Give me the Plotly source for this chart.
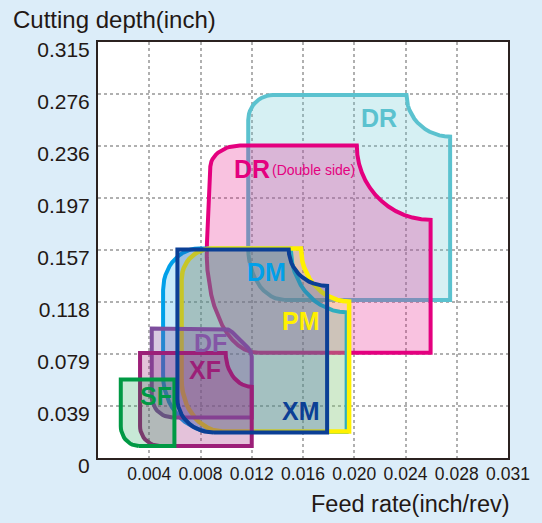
import numpy as np
import plotly.graph_objects as go

# ---------------- axis ticks (inch) ----------------
X_TICK_VALUES = [0.003937, 0.007874, 0.011811, 0.015748, 0.019685, 0.023622, 0.027559, 0.031496]
X_TICK_LABELS = ["0.004", "0.008", "0.012", "0.016", "0.020", "0.024", "0.028", "0.031"]
Y_TICK_VALUES = [0, 0.03937, 0.07874, 0.11811, 0.15748, 0.19685, 0.23622, 0.27559, 0.31496]
Y_TICK_LABELS = ["0", "0.039", "0.079", "0.118", "0.157", "0.197", "0.236", "0.276", "0.315"]

# ---------------- chip-breaker regions ----------------
# corner vertices (feed inch/rev, depth inch) in order BL, TL, TR, BR (+extra)
# corner rounding (feed, depth); negative = concave notch, 0 = sharp
DR_FEED = [0.01154, 0.01154, 0.02705, 0.02705]
DR_DEPTH = [0.1197, 0.2748, 0.2748, 0.1197]
DR_RFEED = [0.00276, 0.0019, -0.00335, 0]
DR_RDEPTH = [0.0394, 0.019, -0.0315, 0]

DRDS_FEED = [0.0080, 0.0087, 0.02555, 0.02555]
DRDS_DEPTH = [0.0797, 0.2366, 0.2366, 0.0797]
DRDS_RFEED = [0.0043, 0.0022, -0.00567, 0]
DRDS_RDEPTH = [0.083, 0.016, -0.0563, 0]

DM_FEED = [0.0050, 0.0050, 0.0191, 0.0191]
DM_DEPTH = [0.0197, 0.1587, 0.1587, 0.0197]
DM_RFEED = [0.0039, 0.00276, -0.0043, 0]
DM_RDEPTH = [0.043, 0.0315, -0.0484, 0]

PM_FEED = [0.00642, 0.00642, 0.01929, 0.01929]
PM_DEPTH = [0.0201, 0.1587, 0.1587, 0.0201]
PM_RFEED = [0.00315, 0.00236, -0.0037, 0]
PM_RDEPTH = [0.0394, 0.0236, -0.0402, 0]

XM_FEED = [0.0061, 0.0061, 0.0176, 0.0176]
XM_DEPTH = [0.0193, 0.1579, 0.1579, 0.0193]
XM_RFEED = [0.00276, 0, -0.00295, 0]
XM_RDEPTH = [0.0256, 0, -0.0276, 0]

DF_FEED = [0.00413, 0.00413, 0.01004, 0.01181, 0.01181]
DF_DEPTH = [0.0307, 0.0980, 0.0980, 0.0807, 0.0307]
DF_RFEED = [0.0016, 0, 0.0004, 0.0004, 0]
DF_RDEPTH = [0.0157, 0, 0.004, 0.004, 0]

XF_FEED = [0.00323, 0.00323, 0.01181, 0.01181]
XF_DEPTH = [0.0091, 0.0795, 0.0795, 0.0091]
XF_RFEED = [0.0015, 0, -0.0020, 0]
XF_RDEPTH = [0.015, 0, -0.0256, 0]

SF_FEED = [0.00175, 0.00175, 0.00587, 0.00587]
SF_DEPTH = [0.0091, 0.0594, 0.0594, 0.0091]
SF_RFEED = [0.00138, 0, 0, 0]
SF_RDEPTH = [0.015, 0, 0, 0]

# labels
LABEL_TEXT = ["DR", "DR", "DM", "PM", "DF", "XF", "SF", "XM"]
LABEL_FEED = [0.02157, 0.01185, 0.01291, 0.01563, 0.00862, 0.00823, 0.00449, 0.01563]
LABEL_DEPTH = [0.2571, 0.2189, 0.1405, 0.1035, 0.0870, 0.0669, 0.0468, 0.0354]
SUB_TEXT = "(Double side)"
SUB_FEED = 0.01322
SUB_DEPTH = 0.2180

# colours
C_DR = "#5bc2cf"
C_DRDS = "#e4007f"
C_DM = "#00a0e9"
C_PM = "#fff100"
C_XM = "#0b3f95"
C_DF = "#7d4e9d"
C_XF = "#9c1f78"
C_SF = "#009944"
LABEL_COLORS = [C_DR, C_DRDS, C_DM, C_PM, "#8456a6", C_XF, C_SF, C_XM]

K = 0.5523


def outline(xs, ys, rxs, rys, n=14):
    px, py = [], []
    m = len(xs)
    for i in range(m):
        V = np.array([xs[i], ys[i]], dtype=float)
        rx, ry = abs(rxs[i]), abs(rys[i])
        if rx == 0 or ry == 0:
            px.append(V[0]); py.append(V[1])
            continue
        P = np.array([xs[i - 1], ys[i - 1]], dtype=float)
        N = np.array([xs[(i + 1) % m], ys[(i + 1) % m]], dtype=float)

        def off(D):
            u = D - V
            s = 1.0 / np.sqrt((u[0] / rx) ** 2 + (u[1] / ry) ** 2)
            return V + u * s

        A, B = off(P), off(N)
        Q = V if rxs[i] > 0 else A + B - V
        c1 = A + K * (Q - A)
        c2 = B + K * (Q - B)
        t = np.linspace(0, 1, n)[:, None]
        pts = (1 - t) ** 3 * A + 3 * (1 - t) ** 2 * t * c1 + 3 * (1 - t) * t ** 2 * c2 + t ** 3 * B
        px.extend(pts[:, 0]); py.extend(pts[:, 1])
    px.append(px[0]); py.append(py[0])
    return px, py


def rgba(hexc, a):
    h = hexc.lstrip("#")
    r, g, b = int(h[0:2], 16), int(h[2:4], 16), int(h[4:6], 16)
    return f"rgba({r},{g},{b},{a})"


fig = go.Figure()


def add_region(name, xs, ys, rxs, rys, color, alpha, fill=True, line=True, width=4, fillcol=None):
    px, py = outline(xs, ys, rxs, rys)
    fig.add_trace(go.Scatter(
        x=px, y=py, mode="lines", name=name,
        fill="toself" if fill else None,
        fillcolor=rgba(fillcol or color, alpha) if fill else None,
        line=dict(color=color if line else "rgba(0,0,0,0)", width=width if line else 0),
        hoverinfo="skip", showlegend=False,
    ))


add_region("DR", DR_FEED, DR_DEPTH, DR_RFEED, DR_RDEPTH, C_DR, 0.25)
add_region("DR(Double side)", DRDS_FEED, DRDS_DEPTH, DRDS_RFEED, DRDS_RDEPTH, C_DRDS, 0.24)
add_region("DM", DM_FEED, DM_DEPTH, DM_RFEED, DM_RDEPTH, C_DM, 0.22)
add_region("PM", PM_FEED, PM_DEPTH, PM_RFEED, PM_RDEPTH, C_PM, 0.18, width=4.5)
add_region("XM", XM_FEED, XM_DEPTH, XM_RFEED, XM_RDEPTH, C_XM, 0.25, line=False, fillcol="#1e46a0")
add_region("DF", DF_FEED, DF_DEPTH, DF_RFEED, DF_RDEPTH, C_DF, 0.3)
add_region("XF", XF_FEED, XF_DEPTH, XF_RFEED, XF_RDEPTH, C_XF, 0.27)
add_region("SF", SF_FEED, SF_DEPTH, SF_RFEED, SF_RDEPTH, C_SF, 0.22)
add_region("XM", XM_FEED, XM_DEPTH, XM_RFEED, XM_RDEPTH, C_XM, 0, fill=False)

FONT = "Liberation Sans, Arial, sans-serif"
for txt, fx, dy, col in zip(LABEL_TEXT, LABEL_FEED, LABEL_DEPTH, LABEL_COLORS):
    fig.add_annotation(x=fx, y=dy, text=f"<b>{txt}</b>", showarrow=False,
                       font=dict(family=FONT, size=25, color=col),
                       xanchor="center", yanchor="middle")
fig.add_annotation(x=SUB_FEED, y=SUB_DEPTH, text=SUB_TEXT, showarrow=False,
                   font=dict(family=FONT, size=14, color=C_DRDS),
                   xanchor="left", yanchor="middle")

# axis titles
fig.add_annotation(xref="paper", yref="paper", x=-0.212, y=1.055, text="Cutting depth(inch)",
                   showarrow=False, xanchor="left", yanchor="middle",
                   font=dict(family=FONT, size=24, color="#231815"))
fig.add_annotation(xref="paper", yref="paper", x=1.0095, y=-0.111, text="Feed rate(inch/rev)",
                   showarrow=False, xanchor="right", yanchor="middle",
                   font=dict(family=FONT, size=23.5, color="#231815"))

fig.update_layout(
    width=542, height=523,
    margin=dict(l=98, r=24, t=42, b=65),
    paper_bgcolor="#dcedf9", plot_bgcolor="white",
    showlegend=False,
)
fig.update_xaxes(
    range=[0, 0.031496], tickvals=X_TICK_VALUES, ticktext=X_TICK_LABELS,
    showgrid=True, gridcolor="#b0b0b0", griddash="dot", gridwidth=1.5,
    zeroline=False, showline=True, mirror=True, linecolor="#2b2220", linewidth=2,
    ticks="", ticklabelstandoff=-1,
    tickfont=dict(family=FONT, size=17.5, color="#231815"),
)
fig.update_yaxes(
    range=[0, 0.31496], tickvals=Y_TICK_VALUES, ticktext=Y_TICK_LABELS,
    showgrid=True, gridcolor="#b0b0b0", griddash="dot", gridwidth=1.5,
    zeroline=False, showline=True, mirror=True, linecolor="#2b2220", linewidth=2,
    ticks="", ticklabelstandoff=2, ticklabelshift=8,
    tickfont=dict(family=FONT, size=21, color="#231815"),
)

fig.write_html("out.html", config={"displayModeBar": False},
               post_script="document.body.style.margin='0';document.body.style.overflow='hidden';")
